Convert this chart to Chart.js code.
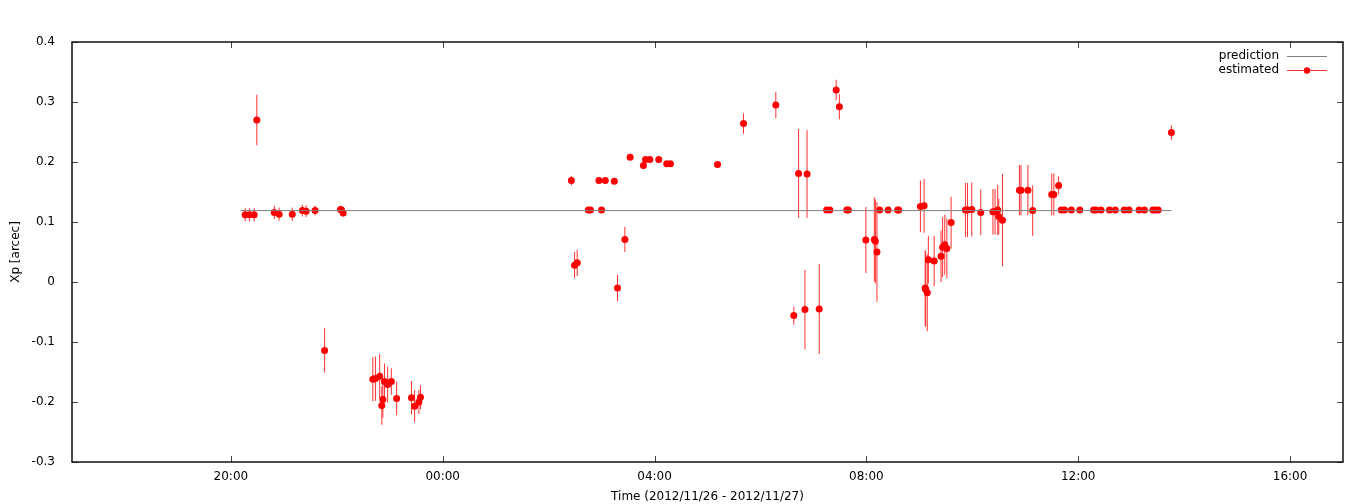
<!DOCTYPE html>
<html>
<head>
<meta charset="utf-8">
<script src="https://cdn.jsdelivr.net/npm/chart.js@4.4.1/dist/chart.umd.min.js"></script>
<style>
  html, body { margin: 0; padding: 0; background: #ffffff; }
  #wrap { width: 1368px; height: 504px; }
</style>
</head>
<body>
<div id="wrap"><canvas id="c" width="1368" height="504"></canvas></div>
<script>
// Time values are hours counted from 2012/11/26 00:00 (24 = 00:00 on 11/27)
const xTickValues = [20, 24, 28, 32, 36, 40];
const xTickLabels = ['20:00', '00:00', '04:00', '08:00', '12:00', '16:00'];
const yTickValues = [-0.3, -0.2, -0.1, 0, 0.1, 0.2, 0.3, 0.4];
const yTickLabels = ['-0.3', '-0.2', '-0.1', '0', '0.1', '0.2', '0.3', '0.4'];

const predTimes  = [20.18, 37.76];
const predValues = [0.119, 0.119];

const estTimes = [
  20.27, 20.35, 20.44, 20.49, 20.82, 20.91, 21.16, 21.35, 21.42, 21.59, 22.07, 22.09, 22.12,
  21.77, 22.68, 22.73, 22.81, 22.85, 22.87, 22.90, 22.96, 23.03, 23.13, 23.41, 23.47, 23.55, 23.58,
  26.43, 26.49, 26.54, 26.75, 26.79, 26.95, 27.00, 27.07, 27.24, 27.30, 27.44, 27.54,
  27.79, 27.83, 27.91, 28.08, 28.23, 28.30, 29.19,
  29.68, 30.29, 30.63, 30.72, 30.84, 30.88, 31.11, 31.25, 31.31, 31.43, 31.49, 31.63, 31.66,
  31.99, 32.15, 32.17, 32.20, 32.25, 32.41, 32.59, 32.61,
  33.02, 33.09, 33.11, 33.12, 33.15, 33.17, 33.28, 33.41, 33.44, 33.48, 33.52, 33.60,
  33.87, 33.91, 33.99, 34.16, 34.39, 34.43, 34.48, 34.50, 34.57,
  34.89, 34.92, 35.05, 35.14, 35.50, 35.54, 35.63,
  35.68, 35.74, 35.87, 36.03, 36.29, 36.34, 36.43, 36.59, 36.70, 36.87, 36.96,
  37.15, 37.25, 37.41, 37.45, 37.51, 37.76
];
const estValues = [
  0.112, 0.112, 0.112, 0.270, 0.116, 0.113, 0.113, 0.119, 0.118, 0.119, 0.121, 0.120, 0.115,
  -0.114, -0.162, -0.161, -0.157, -0.206, -0.196, -0.166, -0.171, -0.166, -0.194, -0.193, -0.207, -0.200, -0.192,
  0.169, 0.028, 0.032, 0.120, 0.120, 0.169, 0.120, 0.169, 0.168, -0.010, 0.071, 0.208,
  0.194, 0.204, 0.204, 0.204, 0.197, 0.197, 0.196,
  0.264, 0.295, -0.056, 0.181, -0.046, 0.180, -0.045, 0.120, 0.120, 0.320, 0.292, 0.120, 0.120,
  0.070, 0.071, 0.068, 0.050, 0.120, 0.120, 0.120, 0.120,
  0.126, 0.127, -0.010, -0.012, -0.018, 0.037, 0.035, 0.043, 0.058, 0.062, 0.056, 0.099,
  0.120, 0.120, 0.121, 0.116, 0.117, 0.117, 0.120, 0.109, 0.103,
  0.153, 0.153, 0.153, 0.119, 0.146, 0.146, 0.161,
  0.120, 0.120, 0.120, 0.120, 0.120, 0.120, 0.120, 0.120, 0.120, 0.120, 0.120,
  0.120, 0.120, 0.120, 0.120, 0.120, 0.249
];
const estErrors = [
  0.011, 0.011, 0.011, 0.042, 0.011, 0.011, 0.011, 0.010, 0.010, 0.008, 0.006, 0.006, 0.006,
  0.037, 0.037, 0.037, 0.037, 0.032, 0.030, 0.030, 0.030, 0.022, 0.028, 0.028, 0.027, 0.020, 0.020,
  0.008, 0.022, 0.022, 0.004, 0.004, 0.004, 0.004, 0.004, 0.004, 0.022, 0.021, 0.004,
  0.004, 0.004, 0.004, 0.004, 0.004, 0.004, 0.004,
  0.017, 0.022, 0.015, 0.074, 0.066, 0.073, 0.075, 0.004, 0.004, 0.017, 0.021, 0.004, 0.004,
  0.055, 0.070, 0.070, 0.083, 0.004, 0.004, 0.004, 0.004,
  0.043, 0.045, 0.063, 0.063, 0.064, 0.040, 0.042, 0.043, 0.050, 0.050, 0.050, 0.043,
  0.045, 0.045, 0.045, 0.038, 0.038, 0.038, 0.042, 0.030, 0.077,
  0.042, 0.042, 0.042, 0.042, 0.035, 0.035, 0.015,
  0.003, 0.003, 0.003, 0.003, 0.003, 0.003, 0.003, 0.003, 0.003, 0.003, 0.003,
  0.003, 0.003, 0.003, 0.003, 0.003, 0.012
];

const FONT = { family: 'DejaVu Sans', size: 12 };

const predData = predTimes.map((t, i) => ({ x: t, y: predValues[i] }));
const estData = estTimes.map((t, i) => ({ x: t, y: estValues[i] }));

const errorBarPlugin = {
  id: 'errorBars',
  beforeDatasetsDraw(chart) {
    const ctx = chart.ctx;
    const xs = chart.scales.x, ys = chart.scales.y;
    ctx.save();
    ctx.globalAlpha = 1;
    ctx.strokeStyle = '#ff3030';
    ctx.lineWidth = 1;
    estTimes.forEach((t, i) => {
      const px = xs.getPixelForValue(t);
      const y1 = ys.getPixelForValue(estValues[i] - estErrors[i]);
      const y2 = ys.getPixelForValue(estValues[i] + estErrors[i]);
      ctx.beginPath();
      ctx.moveTo(px, y1);
      ctx.lineTo(px, y2);
      ctx.stroke();
    });
    ctx.restore();
  }
};

const framePlugin = {
  id: 'frame',
  afterDraw(chart) {
    const ctx = chart.ctx;
    const a = chart.chartArea;
    const xs = chart.scales.x, ys = chart.scales.y;
    ctx.save();
    // inward tick marks (mirrored on top and right)
    ctx.strokeStyle = '#444';
    ctx.lineWidth = 1;
    const tl = 6;
    xTickValues.forEach(v => {
      const px = Math.round(xs.getPixelForValue(v)) + 0.5;
      ctx.beginPath();
      ctx.moveTo(px, a.bottom); ctx.lineTo(px, a.bottom - tl);
      ctx.moveTo(px, a.top); ctx.lineTo(px, a.top + tl);
      ctx.stroke();
    });
    yTickValues.forEach(v => {
      const py = Math.round(ys.getPixelForValue(v)) + 0.5;
      ctx.beginPath();
      ctx.moveTo(a.left, py); ctx.lineTo(a.left + tl, py);
      ctx.moveTo(a.right, py); ctx.lineTo(a.right - tl, py);
      ctx.stroke();
    });
    // border
    ctx.strokeStyle = '#111';
    ctx.lineWidth = 1.5;
    ctx.strokeRect(a.left, a.top, a.right - a.left, a.bottom - a.top);

    // legend (text on the left, sample on the right)
    const ds = chart.data.datasets;
    const textRight = a.right - 64;
    const sx1 = a.right - 56, sx2 = a.right - 16;
    ctx.font = '12px "DejaVu Sans"';
    ctx.fillStyle = '#000';
    ctx.textAlign = 'right';
    ctx.textBaseline = 'middle';
    ds.forEach((d, i) => {
      const yy = a.top + 14 + i * 14;
      ctx.fillText(d.label, textRight, yy);
      ctx.strokeStyle = d.legendLine;
      ctx.lineWidth = 1;
      ctx.beginPath();
      ctx.moveTo(sx1, Math.round(yy) + 0.5);
      ctx.lineTo(sx2, Math.round(yy) + 0.5);
      ctx.stroke();
      if (d.pointRadius > 0) {
        ctx.fillStyle = d.backgroundColor;
        ctx.beginPath();
        ctx.arc((sx1 + sx2) / 2, Math.round(yy) + 0.5, 3.2, 0, Math.PI * 2);
        ctx.fill();
        ctx.fillStyle = '#000';
      }
    });
    ctx.restore();
  }
};

new Chart(document.getElementById('c'), {
  type: 'scatter',
  data: {
    datasets: [
      {
        label: 'prediction',
        data: predData,
        showLine: true,
        borderColor: '#808080',
        backgroundColor: '#808080',
        borderWidth: 1,
        pointRadius: 0,
        legendLine: '#808080'
      },
      {
        label: 'estimated',
        data: estData,
        showLine: false,
        backgroundColor: '#ff0000',
        borderColor: '#ff0000',
        borderWidth: 0,
        pointRadius: 3.5,
        legendLine: '#ff3030'
      }
    ]
  },
  options: {
    responsive: false,
    animation: false,
    devicePixelRatio: 1,
    layout: { padding: { top: 42, right: 25, left: 0, bottom: 0 } },
    plugins: { legend: { display: false }, tooltip: { enabled: false } },
    scales: {
      x: {
        type: 'linear',
        min: 17,
        max: 41,
        grid: { display: false },
        border: { display: false },
        afterBuildTicks(scale) { scale.ticks = xTickValues.map(v => ({ value: v })); },
        afterFit(scale) { scale.height = 42; },
        ticks: {
          autoSkip: false,
          maxRotation: 0,
          padding: 0,
          color: '#000',
          font: FONT,
          callback: (v, i) => xTickLabels[i]
        },
        title: {
          display: true,
          text: 'Time (2012/11/26 - 2012/11/27)',
          color: '#000',
          font: FONT,
          padding: { top: 0, bottom: 0 }
        }
      },
      y: {
        type: 'linear',
        min: -0.3,
        max: 0.4,
        grid: { display: false },
        border: { display: false },
        afterBuildTicks(scale) { scale.ticks = yTickValues.map(v => ({ value: v })); },
        afterFit(scale) { scale.width = 72; },
        ticks: {
          autoSkip: false,
          padding: 9,
          color: '#000',
          font: FONT,
          callback: (v, i) => yTickLabels[i]
        },
        title: {
          display: true,
          text: 'Xp [arcec]',
          color: '#000',
          font: FONT,
          padding: { top: 9, bottom: 0 }
        }
      }
    }
  },
  plugins: [errorBarPlugin, framePlugin]
});
</script>
</body>
</html>
